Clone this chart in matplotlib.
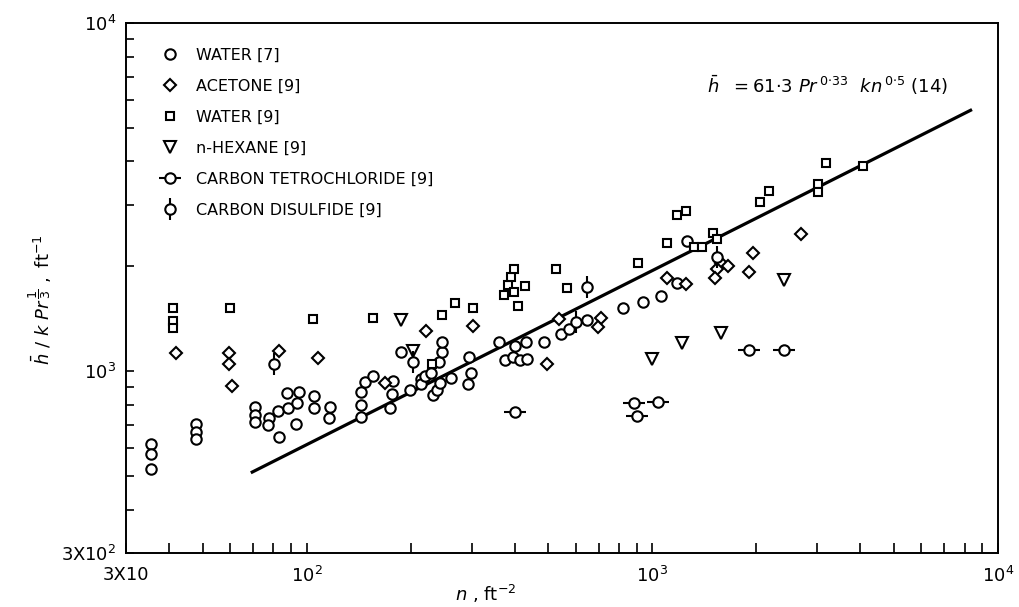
import numpy as np
import matplotlib
matplotlib.use("Agg")
import matplotlib.pyplot as plt
from matplotlib.lines import Line2D
from matplotlib.ticker import FixedLocator, FixedFormatter, NullFormatter

# ---------------- data ----------------
# Water [7]  (open circles)
water7_n = [35.4,35.4,35.4,47.8,47.8,47.8,70.9,70.9,70.9,77.9,77.4,82.8,83.1,87.5,88.5,93.1,93.9,95.2,
            105,105,117,116,144,144,144,147,155,178,176,174,187,199,214,214,220,229,232,238,243,242,246,
            247,262,292,298,295,361,401,432,375,394,414,435,487,544,575,646,821,942,1060,1180,1260]
water7_h = [617,578,523,704,668,638,787,748,715,732,700,768,645,863,782,703,811,872,
            848,782,787,732,737,799,872,932,970,938,857,782,1136,880,949,916,968,989,853,882,922,1060,1136,
            1215,953,918,985,1100,1210,1183,1215,1076,1095,1076,1081,1210,1278,1318,1402,1515,1583,1638,1787,2369]
# Acetone [9]  (diamonds)
acetone_n = [41.9,59.6,59.6,60.8,83.3,108,168,221,302,495,538,708,695,1100,1250,1580,1660,1540,1520,1950,1900,2690]
acetone_h = [1130,1130,1050,906,1140,1090,921,1300,1350,1050,1410,1420,1340,1850,1780,2050,2000,1970,1850,2190,1930,2480]
# Water [9]  (squares)
water9_n = [40.9,40.9,40.9,60,104,155,230,246,269,303,371,382,390,399,399,409,427,526,568,911,1100,1180,1250,
            1320,1390,1500,1540,2050,2180,3010,3010,3170,4080]
water9_h = [1520,1390,1330,1520,1410,1420,1050,1450,1570,1520,1650,1770,1860,1960,1690,1540,1760,1970,1730,2050,
            2330,2810,2890,2270,2270,2500,2390,3050,3300,3450,3270,3950,3870]
# n-Hexane [9]  (down triangles)
hexane_n = [187,203,1000,1220,1580,2410]
hexane_h = [1400,1140,1080,1200,1290,1830]
# Carbon tetrochloride [9]  (circle with horizontal bar)
ccl4_n = [400,885,901,1040,1910,2410]
ccl4_h = [764,811,743,813,1150,1150]
# Carbon disulfide [9]  (circle with vertical bar)
cs2_n = [80.2,203,601,649,1540]
cs2_h = [1050,1060,1380,1740,2130]
# correlation line, eq. (14)
line_n = [68.9, 8410]
line_h = [510, 5640]

x_major = [30, 100, 1000, 10000]
x_major_labels = ['3X10', '$10^2$', '$10^3$', '$10^4$']
y_major = [300, 1000, 10000]
y_major_labels = ['3X10$^2$', '$10^3$', '$10^4$']

# ---------------- figure ----------------
plt.rcParams['font.family'] = ['DejaVu Sans']
plt.rcParams['mathtext.fontset'] = 'dejavusans'

W, H = 1019, 607
fig = plt.figure(figsize=(W/100, H/100), dpi=100)
ax = fig.add_axes([126/W, 1-553/H, (998-126)/W, (553-23)/H])
ax.set_xscale('log'); ax.set_yscale('log')
ax.set_xlim(30, 1e4); ax.set_ylim(300, 1e4)

ax.plot(line_n, line_h, color='k', lw=2.3, solid_capstyle='butt', zorder=2)

mk = dict(mfc='white', mec='k', mew=1.5, ls='none', zorder=3)
ax.plot(water7_n, water7_h, marker='o', ms=7.5, **mk)
ax.plot(acetone_n, acetone_h, marker='D', ms=6.2, **mk)
ax.plot(water9_n, water9_h, marker='s', ms=6, **mk)
ax.plot(hexane_n, hexane_h, marker='v', ms=8, **mk)
ax.plot(ccl4_n, ccl4_h, marker='_', ms=16, mew=1.5, color='k', ls='none', zorder=3)
ax.plot(ccl4_n, ccl4_h, marker='o', ms=7.5, **mk)
ax.plot(cs2_n, cs2_h, marker='|', ms=16, mew=1.5, color='k', ls='none', zorder=3)
ax.plot(cs2_n, cs2_h, marker='o', ms=7.5, **mk)

# ticks
ax.xaxis.set_major_locator(FixedLocator(x_major))
ax.xaxis.set_major_formatter(FixedFormatter(x_major_labels))
ax.xaxis.set_minor_locator(FixedLocator([v*d for d in (10, 100, 1000) for v in range(2, 10) if 30 < v*d < 10000]))
ax.xaxis.set_minor_formatter(NullFormatter())
ax.yaxis.set_major_locator(FixedLocator(y_major))
ax.yaxis.set_major_formatter(FixedFormatter(y_major_labels))
ax.yaxis.set_minor_locator(FixedLocator([v*d for d in (100, 1000) for v in range(2, 10) if 300 < v*d < 10000]))
ax.yaxis.set_minor_formatter(NullFormatter())
ax.tick_params(axis='x', which='both', direction='in', length=7, width=1.2, pad=9, labelsize=13, top=False)
ax.tick_params(axis='y', which='both', direction='in', length=6, width=1.2, pad=7, labelsize=13, right=False)
for s in ax.spines.values():
    s.set_linewidth(1.4)

# axis labels
fig.text(486/W, 1-601/H, r'$n$ , ft$^{-2}$', ha='center', va='baseline', fontsize=13)
fig.text(40/W, 1-300/H, r'$\bar{h}\ /\ k\ Pr^{\,\dfrac{1}{3}}\ ,\ \mathrm{ft}^{-1}$', ha='center', va='center',
         rotation=90, fontsize=13)

# equation (14)
fig.text(707/W, 1-93/H,
         r'$\bar{h}\ \ =61{\cdot}3\ Pr^{\,0{\cdot}33}\ \ kn^{\,0{\cdot}5}\ \mathregular{(14)}$',
         ha='left', va='baseline', fontsize=13)

# legend
mk2 = dict(mfc='white', mec='k', mew=1.5, ls='none')
h_w7 = Line2D([], [], marker='o', ms=7.5, **mk2)
h_ac = Line2D([], [], marker='D', ms=6.2, **mk2)
h_w9 = Line2D([], [], marker='s', ms=6, **mk2)
h_hx = Line2D([], [], marker='v', ms=8, **mk2)
h_cc = (Line2D([], [], marker='_', ms=16, mew=1.5, color='k', ls='none'), Line2D([], [], marker='o', ms=7.5, **mk2))
h_cs = (Line2D([], [], marker='|', ms=16, mew=1.5, color='k', ls='none'), Line2D([], [], marker='o', ms=7.5, **mk2))
labels = ['WATER [7]', 'ACETONE [9]', 'WATER [9]', 'n-HEXANE [9]', 'CARBON TETROCHLORIDE [9]', 'CARBON DISULFIDE [9]']
ax.legend([h_w7, h_ac, h_w9, h_hx, h_cc, h_cs], labels, loc='upper left',
          bbox_to_anchor=((162.4-126)/872, 1-(47.5-23)/530), frameon=False, fontsize=11.5,
          handlelength=1.0, handletextpad=1.1, labelspacing=1.0, borderpad=0, borderaxespad=0, numpoints=1)

fig.savefig("out.png", dpi=100)
